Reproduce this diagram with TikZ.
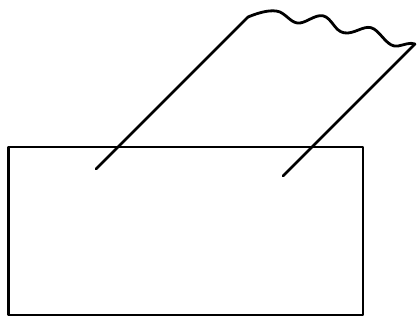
\documentclass[tikz,border=0pt]{standalone}
\begin{document}
\begin{tikzpicture}[x=1pt,y=-1pt,line width=2.8pt,line cap=round,line join=round,
  edge/.style={draw=black}]
\useasboundingbox (0,0) rectangle (420,320);
\coordinate (rtl) at (8.5,147);
\coordinate (rbr) at (363,315);
\coordinate (la) at (96,169);
\coordinate (lb) at (248,17);
\coordinate (ra) at (283,176);
\coordinate (rb) at (415,44);
\draw[edge, line cap=butt] (rtl) rectangle (rbr);
\draw[edge] (la) -- (lb);
\draw[edge] (ra) -- (rb);
\draw[edge] (lb) .. controls (260,12) and (272,9) .. (280,12)
  .. controls (288,16) and (292,24) .. (300,23)
  .. controls (308,22) and (318,12) .. (326,17)
  .. controls (334,22) and (336,34) .. (348,33)
  .. controls (358,32) and (366,24) .. (374,29)
  .. controls (382,34) and (388,48) .. (398,46)
  .. controls (404,45) and (410,42) .. (rb);
\end{tikzpicture}
\end{document}
